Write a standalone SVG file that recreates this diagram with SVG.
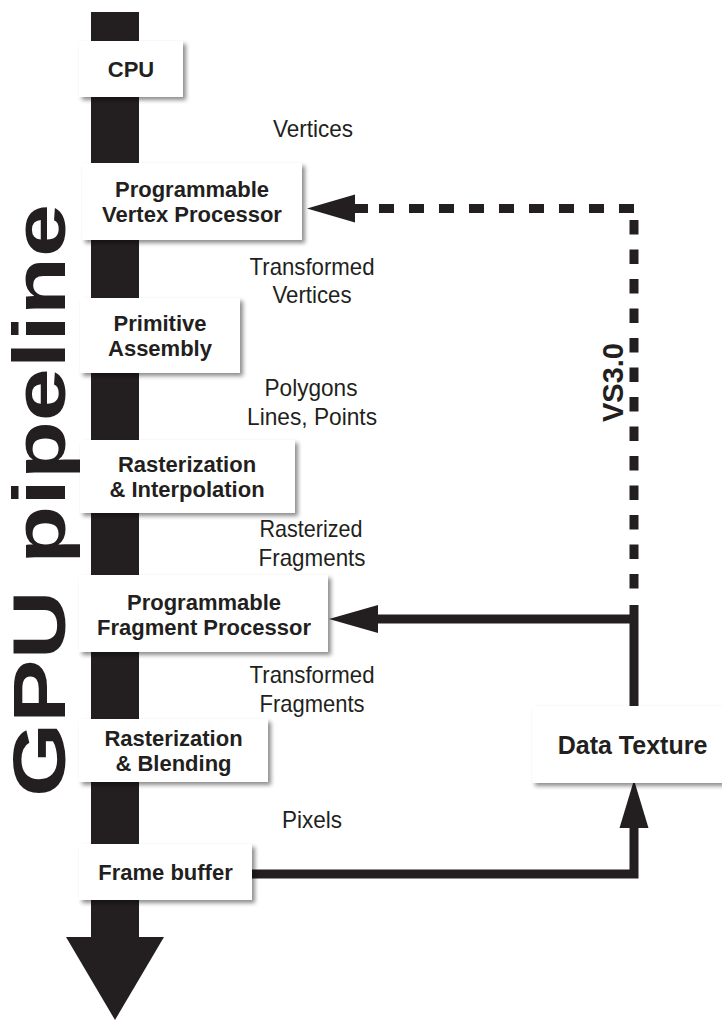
<svg xmlns="http://www.w3.org/2000/svg" width="722" height="1020" viewBox="0 0 722 1020">
<defs>
<filter id="sh" x="-10%" y="-20%" width="130%" height="150%">
<feDropShadow dx="3" dy="3" stdDeviation="2" flood-color="#000" flood-opacity="0.45"/>
</filter>
<style>
.box{fill:#fff;filter:url(#sh)}
.bt{font-family:"Liberation Sans",Arial,sans-serif;font-weight:bold;font-size:22px;fill:#231f20;text-anchor:middle}
.lb{font-family:"Liberation Sans",Arial,sans-serif;font-size:24px;fill:#231f20;text-anchor:middle}
.ln{fill:none;stroke:#231f20;stroke-width:9}
.dk{fill:#231f20}
</style>
</defs>
<rect width="722" height="1020" fill="#fff"/>
<g id="pipeline">
<rect class="dk" x="91" y="12" width="48" height="926"/>
<polygon class="dk" points="66,937 164,937 115,1020"/>
<text transform="translate(65,797) rotate(-90)" font-family="Liberation Sans,Arial,sans-serif" font-weight="bold" font-size="74" fill="#231f20" textLength="593" lengthAdjust="spacingAndGlyphs">GPU pipeline</text>
</g>
<g id="labels">
<text class="lb" x="313" y="137" textLength="80" lengthAdjust="spacingAndGlyphs">Vertices</text>
<text class="lb" x="312" y="275" textLength="125" lengthAdjust="spacingAndGlyphs">Transformed</text>
<text class="lb" x="312" y="303" textLength="79" lengthAdjust="spacingAndGlyphs">Vertices</text>
<text class="lb" x="311" y="396" textLength="93" lengthAdjust="spacingAndGlyphs">Polygons</text>
<text class="lb" x="312" y="425" textLength="130" lengthAdjust="spacingAndGlyphs">Lines, Points</text>
<text class="lb" x="311" y="537" textLength="103" lengthAdjust="spacingAndGlyphs">Rasterized</text>
<text class="lb" x="312" y="566" textLength="107" lengthAdjust="spacingAndGlyphs">Fragments</text>
<text class="lb" x="312" y="683" textLength="125" lengthAdjust="spacingAndGlyphs">Transformed</text>
<text class="lb" x="312" y="712" textLength="105" lengthAdjust="spacingAndGlyphs">Fragments</text>
<text class="lb" x="312" y="828" textLength="60" lengthAdjust="spacingAndGlyphs">Pixels</text>
</g>
<g id="connectors">
<path class="ln" d="M252 874 H634 V826"/>
<polygon class="dk" points="634,780 619.5,828 648.5,828"/>
<path class="ln" d="M634 706 V605 M634 619 H376"/>
<polygon class="dk" points="329,619 378,605 378,633"/>
<path class="ln" d="M634 220 V590" stroke-dasharray="14.5 15"/>
<path class="ln" d="M634 208.5 H368" stroke-dasharray="15 15"/>
<polygon class="dk" points="307,208.5 355,194.5 355,222.5"/>
<rect class="dk" x="354" y="204" width="14" height="9"/>
<text transform="translate(623,422) rotate(-90)" font-family="Liberation Sans,Arial,sans-serif" font-weight="bold" font-size="29" fill="#231f20">VS3.0</text>
</g>
<g id="cpu">
<rect class="box" x="79" y="41" width="104" height="56"/>
<text class="bt" x="131" y="77">CPU</text>
</g>
<g id="vertex">
<rect class="box" x="82" y="163" width="220" height="77"/>
<text class="bt" x="192" y="197">Programmable</text>
<text class="bt" x="192" y="222">Vertex Processor</text>
</g>
<g id="primitive">
<rect class="box" x="80" y="298" width="160" height="75"/>
<text class="bt" x="160" y="331">Primitive</text>
<text class="bt" x="160" y="356">Assembly</text>
</g>
<g id="rasterInterp">
<rect class="box" x="80" y="440" width="215" height="73"/>
<text class="bt" x="187" y="472">Rasterization</text>
<text class="bt" x="187" y="497">&amp; Interpolation</text>
</g>
<g id="fragment">
<rect class="box" x="79" y="575" width="249" height="77"/>
<text class="bt" x="204" y="610">Programmable</text>
<text class="bt" x="204" y="635">Fragment Processor</text>
</g>
<g id="rasterBlend">
<rect class="box" x="79" y="719" width="189" height="63"/>
<text class="bt" x="173.5" y="746">Rasterization</text>
<text class="bt" x="173.5" y="771">&amp; Blending</text>
</g>
<g id="framebuffer">
<rect class="box" x="79" y="844" width="173" height="56"/>
<text class="bt" x="165.5" y="880">Frame buffer</text>
</g>
<g id="datatexture">
<rect class="box" x="532" y="706" width="201" height="77"/>
<text class="bt" x="632.5" y="754" style="font-size:25px">Data Texture</text>
</g>
</svg>
